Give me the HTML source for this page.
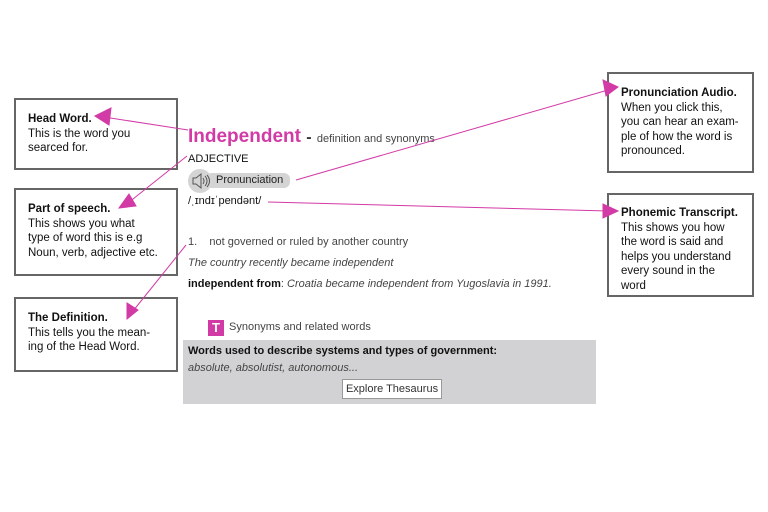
<!DOCTYPE html>
<html><head><meta charset="utf-8"><style>
body{margin:0;width:768px;height:512px;background:#fff;position:relative;font-family:"Liberation Sans",sans-serif;color:#111;overflow:hidden}
.box{position:absolute;border:2px solid #666;box-sizing:border-box;font-size:11.5px;line-height:14.5px;padding:0 0 0 12px}
.box b{font-weight:bold}
.t{position:absolute;white-space:nowrap}
</style></head><body>
<div class="box" style="left:14px;top:98px;width:164px;height:72px;padding-top:12px"><b>Head Word.</b><br>This is the word you<br>searced for.</div>
<div class="box" style="left:14px;top:188px;width:164px;height:88px;padding-top:12px"><b>Part of speech.</b><br>This shows you what<br>type of word this is e.g<br>Noun, verb, adjective etc.</div>
<div class="box" style="left:14px;top:297px;width:164px;height:75px;padding-top:12px"><b>The Definition.</b><br>This tells you the mean-<br>ing of the Head Word.</div>
<div class="box" style="left:607px;top:72px;width:147px;height:101px;padding-top:12px"><b>Pronunciation Audio.</b><br>When you click this,<br>you can hear an exam-<br>ple of how the word is<br>pronounced.</div>
<div class="box" style="left:607px;top:193px;width:147px;height:104px;padding-top:11px"><b>Phonemic Transcript.</b><br>This shows you how<br>the word is said and<br>helps you understand<br>every sound in the<br>word</div>

<div class="t" style="left:188px;top:126px;font-size:19px;font-weight:bold;color:#d23aa6">Independent <span style="color:#333;font-size:16px">-</span> <span style="font-size:11px;font-weight:normal;color:#444">definition and synonyms</span></div>
<div class="t" style="left:188px;top:153px;font-size:11px">ADJECTIVE</div>
<div style="position:absolute;left:188px;top:169px;width:24px;height:24px;border-radius:12px;background:#d4d4d4"></div>
<div style="position:absolute;left:206px;top:173px;width:84px;height:15px;border-radius:6px;background:#d4d4d4"></div>
<svg style="position:absolute;left:190px;top:172px" width="22" height="18"><path d="M3 6h3l5-4v14l-5-4H3z" fill="none" stroke="#555"/><path d="M13 6q2 3 0 6M15 4q4 5 0 10M17 3q5 6 0 12" fill="none" stroke="#555"/></svg>
<div class="t" style="left:216px;top:174px;font-size:11px;color:#222">Pronunciation</div>
<div class="t" style="left:188px;top:195px;font-size:11px">/ˌɪndɪˈpendənt/</div>
<div class="t" style="left:188px;top:236px;font-size:11px;color:#444">1.&nbsp;&nbsp;&nbsp;&nbsp;not governed or ruled by another country</div>
<div class="t" style="left:188px;top:257px;font-size:11px;color:#444;font-style:italic">The country recently became independent</div>
<div class="t" style="left:188px;top:278px;font-size:11px;color:#444"><b style="color:#111;font-style:normal">independent from</b>: <i>Croatia became independent from Yugoslavia in 1991.</i></div>
<div style="position:absolute;left:208px;top:320px;width:16px;height:16px;background:#d23aa6;color:#fff;font-weight:bold;font-size:13px;text-align:center;line-height:16px">T</div>
<div class="t" style="left:229px;top:321px;font-size:11px;color:#444">Synonyms and related words</div>
<div style="position:absolute;left:183px;top:340px;width:413px;height:64px;background:#d2d2d4"></div>
<div class="t" style="left:188px;top:345px;font-size:11px;font-weight:bold">Words used to describe systems and types of government:</div>
<div class="t" style="left:188px;top:362px;font-size:11px;font-style:italic;color:#444">absolute, absolutist, autonomous...</div>
<div class="t" style="left:342px;top:379px;width:98px;height:18px;background:#fff;border:1px solid #999;font-size:11px;line-height:18px;text-align:center;color:#333">Explore Thesaurus</div>

<svg style="position:absolute;left:0;top:0" width="768" height="512">
<g stroke="#d23aa6" stroke-width="1" fill="#d23aa6">
<line x1="188" y1="130" x2="104" y2="117"/><polygon points="95,116 111,108 109,125"/>
<line x1="187" y1="156" x2="128" y2="203"/><polygon points="119,208 129,194 136,206"/>
<line x1="186" y1="245" x2="133" y2="311"/><polygon points="127,319 127,303 138,310"/>
<line x1="296" y1="180" x2="608" y2="90"/><polygon points="618,87 603,80 606,96"/>
<line x1="268" y1="202" x2="608" y2="211"/><polygon points="618,211 603,204 603,218"/>
</g></svg>
</body></html>
